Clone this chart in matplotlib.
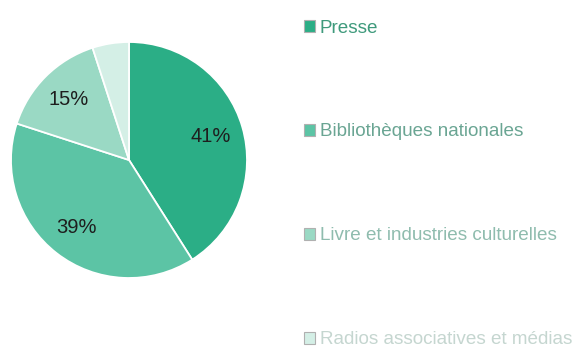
import matplotlib
matplotlib.use('Agg')
import matplotlib.pyplot as plt

plt.rcParams['font.family'] = ['Liberation Sans', 'DejaVu Sans']

labels = ['Presse', 'Bibliothèques nationales', 'Livre et industries culturelles',
          'Radios associatives et médias']
shares = [41, 39, 15, 5]
colors = ['#2bae86', '#5cc4a5', '#9ad9c4', '#d4efe6']
text_colors = ['#3f9a7c', '#6aa593', '#8fbcae', '#c5d6d0']

fig = plt.figure(figsize=(5.83, 3.48), dpi=100)
ax = fig.add_axes([11/583, 70/348, 236/583, 236/348])

wedges, _, pcts = ax.pie(
    shares, colors=colors, startangle=90, counterclock=False,
    autopct=lambda p: f'{p:.0f}%' if p > 10 else '',
    pctdistance=0.72, radius=1,
    wedgeprops=dict(edgecolor='white', linewidth=1.3),
    textprops=dict(fontsize=14.5, color='#1e1e1e'))
ax.set_xlim(-1, 1)
ax.set_ylim(-1, 1)

leg = fig.legend(wedges, labels, loc='upper left', bbox_to_anchor=(296/583, 1 - 12/348),
                 frameon=False, fontsize=13.6, labelspacing=4.6,
                 handlelength=0.6, handleheight=0.6, handletextpad=0.25,
                 borderaxespad=0)
for t, c in zip(leg.get_texts(), text_colors):
    t.set_color(c)
for h in leg.legend_handles:
    h.set_edgecolor('#b0b0b0')
    h.set_linewidth(0.8)

fig.savefig('out.png', dpi=100)
